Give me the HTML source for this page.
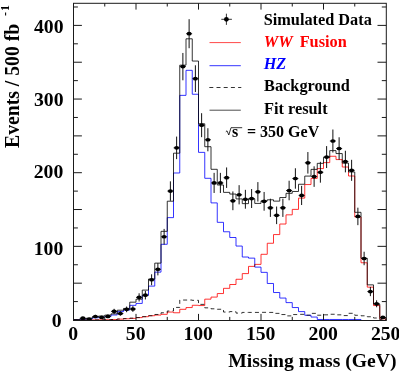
<!DOCTYPE html>
<html><head><meta charset="utf-8"><title>Missing mass</title>
<style>html,body{margin:0;padding:0;background:#fff;}body{width:399px;height:373px;overflow:hidden;font-family:"Liberation Serif",serif;}svg{display:block;}</style>
</head><body>
<svg width="399" height="373" viewBox="0 0 399 373">
<rect x="0" y="0" width="399" height="373" fill="#fff"/>
<g fill="none" stroke-linejoin="miter" stroke-linecap="butt">
<path d="M73.50 320.00 L73.50 319.63 L79.75 319.63 L79.75 318.90 L86.00 318.90 L86.00 318.31 L92.25 318.31 L92.25 316.91 L98.50 316.91 L98.50 316.10 L104.75 316.10 L104.75 315.14 L111.00 315.14 L111.00 313.89 L117.25 313.89 L117.25 310.20 L123.50 310.20 L123.50 308.44 L129.75 308.44 L129.75 302.18 L136.00 302.18 L136.00 299.16 L142.25 299.16 L142.25 290.10 L148.50 290.10 L148.50 279.05 L154.75 279.05 L154.75 263.14 L161.00 263.14 L161.00 231.33 L167.25 231.33 L167.25 201.20 L173.50 201.20 L173.50 153.18 L179.75 153.18 L179.75 65.17 L186.00 65.17 L186.00 38.80 L192.25 38.80 L192.25 61.05 L198.50 61.05 L198.50 123.80 L204.75 123.80 L204.75 146.70 L211.00 146.70 L211.00 169.31 L217.25 169.31 L217.25 185.00 L223.50 185.00 L223.50 192.36 L229.75 192.36 L229.75 194.06 L236.00 194.06 L236.00 198.92 L242.25 198.92 L242.25 203.63 L248.50 203.63 L248.50 198.85 L254.75 198.85 L254.75 203.41 L261.00 203.41 L261.00 200.83 L267.25 200.83 L267.25 199.80 L273.50 199.80 L273.50 201.13 L279.75 201.13 L279.75 197.52 L286.00 197.52 L286.00 193.32 L292.25 193.32 L292.25 191.48 L298.50 191.48 L298.50 184.26 L304.75 184.26 L304.75 176.09 L311.00 176.09 L311.00 169.39 L317.25 169.39 L317.25 163.35 L323.50 163.35 L323.50 157.31 L329.75 157.31 L329.75 150.60 L336.00 150.60 L336.00 153.55 L342.25 153.55 L342.25 163.13 L348.50 163.13 L348.50 171.96 L354.75 171.96 L354.75 212.32 L361.00 212.32 L361.00 258.28 L367.25 258.28 L367.25 284.87 L373.50 284.87 L373.50 304.09 L379.75 304.09 L379.75 317.57 L386.00 317.57 L386.00 320.00" stroke="#000" stroke-width="0.8"/>
<path d="M73.50 320.00 L73.50 319.78 L79.75 319.78 L79.75 319.26 L86.00 319.26 L86.00 318.90 L92.25 318.90 L92.25 317.79 L98.50 317.79 L98.50 317.27 L104.75 317.27 L104.75 316.61 L111.00 316.61 L111.00 314.99 L117.25 314.99 L117.25 311.60 L123.50 311.60 L123.50 310.06 L129.75 310.06 L129.75 305.34 L136.00 305.34 L136.00 303.43 L142.25 303.43 L142.25 295.25 L148.50 295.25 L148.50 286.12 L154.75 286.12 L154.75 272.13 L161.00 272.13 L161.00 244.29 L167.25 244.29 L167.25 217.63 L173.50 217.63 L173.50 172.99 L179.75 172.99 L179.75 95.37 L186.00 95.37 L186.00 70.33 L192.25 70.33 L192.25 94.26 L198.50 94.26 L198.50 152.37 L204.75 152.37 L204.75 178.30 L211.00 178.30 L211.00 202.90 L217.25 202.90 L217.25 222.34 L223.50 222.34 L223.50 231.77 L229.75 231.77 L229.75 237.51 L236.00 237.51 L236.00 246.06 L242.25 246.06 L242.25 257.03 L248.50 257.03 L248.50 258.13 L254.75 258.13 L254.75 267.12 L261.00 267.12 L261.00 272.35 L267.25 272.35 L267.25 283.47 L273.50 283.47 L273.50 292.53 L279.75 292.53 L279.75 298.05 L286.00 298.05 L286.00 302.62 L292.25 302.62 L292.25 307.55 L298.50 307.55 L298.50 311.60 L304.75 311.60 L304.75 315.29 L311.00 315.29 L311.00 317.05 L317.25 317.05 L317.25 319.48 L323.50 319.48 L323.50 319.48 L329.75 319.48 L329.75 319.48 L336.00 319.48 L336.00 319.48 L342.25 319.48 L342.25 319.48 L348.50 319.48 L348.50 319.48 L354.75 319.48 L354.75 319.48 L361.00 319.48 L361.00 320.00" stroke="#0000ff" stroke-width="0.8" style="mix-blend-mode:multiply"/>
</g>
<g stroke="#111" stroke-width="1" fill="#000">
<path d="M82.88 316.91V319.37"/>
<path d="M79.85 318.14H85.90" stroke-width="1" stroke-opacity="0.8"/>
<ellipse cx="82.88" cy="318.14" rx="2.5" ry="1.85" stroke="none"/>
<path d="M89.12 318.19V320.00"/>
<path d="M86.10 319.10H92.15" stroke-width="1" stroke-opacity="0.8"/>
<ellipse cx="89.12" cy="319.10" rx="2.5" ry="1.85" stroke="none"/>
<path d="M95.38 314.87V318.16"/>
<path d="M92.35 316.52H98.40" stroke-width="1" stroke-opacity="0.8"/>
<ellipse cx="95.38" cy="316.52" rx="2.5" ry="1.85" stroke="none"/>
<path d="M101.62 315.97V318.84"/>
<path d="M98.60 317.40H104.65" stroke-width="1" stroke-opacity="0.8"/>
<ellipse cx="101.62" cy="317.40" rx="2.5" ry="1.85" stroke="none"/>
<path d="M107.88 314.78V318.11"/>
<path d="M104.85 316.44H110.90" stroke-width="1" stroke-opacity="0.8"/>
<ellipse cx="107.88" cy="316.44" rx="2.5" ry="1.85" stroke="none"/>
<path d="M114.12 308.81V313.91"/>
<path d="M111.10 311.36H117.15" stroke-width="1" stroke-opacity="0.8"/>
<ellipse cx="114.12" cy="311.36" rx="2.5" ry="1.85" stroke="none"/>
<path d="M120.38 311.28V315.72"/>
<path d="M117.35 313.50H123.40" stroke-width="1" stroke-opacity="0.8"/>
<ellipse cx="120.38" cy="313.50" rx="2.5" ry="1.85" stroke="none"/>
<path d="M126.62 306.55V312.20"/>
<path d="M123.60 309.37H129.65" stroke-width="1" stroke-opacity="0.8"/>
<ellipse cx="126.62" cy="309.37" rx="2.5" ry="1.85" stroke="none"/>
<path d="M132.88 306.13V311.88"/>
<path d="M129.85 309.01H135.90" stroke-width="1" stroke-opacity="0.8"/>
<ellipse cx="132.88" cy="309.01" rx="2.5" ry="1.85" stroke="none"/>
<path d="M139.12 293.27V301.47"/>
<path d="M136.10 297.37H142.15" stroke-width="1" stroke-opacity="0.8"/>
<ellipse cx="139.12" cy="297.37" rx="2.5" ry="1.85" stroke="none"/>
<path d="M145.38 290.86V299.45"/>
<path d="M142.35 295.16H148.40" stroke-width="1" stroke-opacity="0.8"/>
<ellipse cx="145.38" cy="295.16" rx="2.5" ry="1.85" stroke="none"/>
<path d="M151.62 274.31V285.22"/>
<path d="M148.60 279.77H154.65" stroke-width="1" stroke-opacity="0.8"/>
<ellipse cx="151.62" cy="279.77" rx="2.5" ry="1.85" stroke="none"/>
<path d="M157.88 263.11V275.36"/>
<path d="M154.85 269.23H160.90" stroke-width="1" stroke-opacity="0.8"/>
<ellipse cx="157.88" cy="269.23" rx="2.5" ry="1.85" stroke="none"/>
<path d="M164.12 228.92V244.59"/>
<path d="M161.10 236.75H167.15" stroke-width="1" stroke-opacity="0.8"/>
<ellipse cx="164.12" cy="236.75" rx="2.5" ry="1.85" stroke="none"/>
<path d="M170.38 181.34V200.84"/>
<path d="M167.35 191.09H173.40" stroke-width="1" stroke-opacity="0.8"/>
<ellipse cx="170.38" cy="191.09" rx="2.5" ry="1.85" stroke="none"/>
<path d="M176.62 136.59V159.13"/>
<path d="M173.60 147.86H179.65" stroke-width="1" stroke-opacity="0.8"/>
<ellipse cx="176.62" cy="147.86" rx="2.5" ry="1.85" stroke="none"/>
<path d="M182.88 52.96V80.29"/>
<path d="M179.85 66.62H185.90" stroke-width="1" stroke-opacity="0.8"/>
<ellipse cx="182.88" cy="66.62" rx="2.5" ry="1.85" stroke="none"/>
<path d="M189.12 19.18V48.23"/>
<path d="M186.10 33.70H192.15" stroke-width="1" stroke-opacity="0.8"/>
<ellipse cx="189.12" cy="33.70" rx="2.5" ry="1.85" stroke="none"/>
<path d="M195.38 65.29V91.97"/>
<path d="M192.35 78.63H198.40" stroke-width="1" stroke-opacity="0.8"/>
<ellipse cx="195.38" cy="78.63" rx="2.5" ry="1.85" stroke="none"/>
<path d="M201.62 113.19V137.16"/>
<path d="M198.60 125.17H204.65" stroke-width="1" stroke-opacity="0.8"/>
<ellipse cx="201.62" cy="125.17" rx="2.5" ry="1.85" stroke="none"/>
<path d="M207.88 128.23V151.29"/>
<path d="M204.85 139.76H210.90" stroke-width="1" stroke-opacity="0.8"/>
<ellipse cx="207.88" cy="139.76" rx="2.5" ry="1.85" stroke="none"/>
<path d="M214.12 172.86V192.97"/>
<path d="M211.10 182.92H217.15" stroke-width="1" stroke-opacity="0.8"/>
<ellipse cx="214.12" cy="182.92" rx="2.5" ry="1.85" stroke="none"/>
<path d="M220.38 172.86V192.97"/>
<path d="M217.35 182.92H223.40" stroke-width="1" stroke-opacity="0.8"/>
<ellipse cx="220.38" cy="182.92" rx="2.5" ry="1.85" stroke="none"/>
<path d="M226.62 167.44V187.93"/>
<path d="M223.60 177.69H229.65" stroke-width="1" stroke-opacity="0.8"/>
<ellipse cx="226.62" cy="177.69" rx="2.5" ry="1.85" stroke="none"/>
<path d="M232.88 191.44V210.19"/>
<path d="M229.85 200.81H235.90" stroke-width="1" stroke-opacity="0.8"/>
<ellipse cx="232.88" cy="200.81" rx="2.5" ry="1.85" stroke="none"/>
<path d="M239.12 185.16V204.39"/>
<path d="M236.10 194.77H242.15" stroke-width="1" stroke-opacity="0.8"/>
<ellipse cx="239.12" cy="194.77" rx="2.5" ry="1.85" stroke="none"/>
<path d="M245.38 189.83V208.70"/>
<path d="M242.35 199.27H248.40" stroke-width="1" stroke-opacity="0.8"/>
<ellipse cx="245.38" cy="199.27" rx="2.5" ry="1.85" stroke="none"/>
<path d="M251.62 189.06V208.00"/>
<path d="M248.60 198.53H254.65" stroke-width="1" stroke-opacity="0.8"/>
<ellipse cx="251.62" cy="198.53" rx="2.5" ry="1.85" stroke="none"/>
<path d="M257.88 182.10V201.55"/>
<path d="M254.85 191.83H260.90" stroke-width="1" stroke-opacity="0.8"/>
<ellipse cx="257.88" cy="191.83" rx="2.5" ry="1.85" stroke="none"/>
<path d="M264.12 191.97V210.69"/>
<path d="M261.10 201.33H267.15" stroke-width="1" stroke-opacity="0.8"/>
<ellipse cx="264.12" cy="201.33" rx="2.5" ry="1.85" stroke="none"/>
<path d="M270.38 198.71V216.91"/>
<path d="M267.35 207.81H273.40" stroke-width="1" stroke-opacity="0.8"/>
<ellipse cx="270.38" cy="207.81" rx="2.5" ry="1.85" stroke="none"/>
<path d="M276.62 206.53V224.11"/>
<path d="M273.60 215.32H279.65" stroke-width="1" stroke-opacity="0.8"/>
<ellipse cx="276.62" cy="215.32" rx="2.5" ry="1.85" stroke="none"/>
<path d="M282.88 198.71V216.91"/>
<path d="M279.85 207.81H285.90" stroke-width="1" stroke-opacity="0.8"/>
<ellipse cx="282.88" cy="207.81" rx="2.5" ry="1.85" stroke="none"/>
<path d="M289.12 180.73V200.28"/>
<path d="M286.10 190.50H292.15" stroke-width="1" stroke-opacity="0.8"/>
<ellipse cx="289.12" cy="190.50" rx="2.5" ry="1.85" stroke="none"/>
<path d="M295.38 168.28V188.71"/>
<path d="M292.35 178.50H298.40" stroke-width="1" stroke-opacity="0.8"/>
<ellipse cx="295.38" cy="178.50" rx="2.5" ry="1.85" stroke="none"/>
<path d="M301.62 185.85V205.02"/>
<path d="M298.60 195.44H304.65" stroke-width="1" stroke-opacity="0.8"/>
<ellipse cx="301.62" cy="195.44" rx="2.5" ry="1.85" stroke="none"/>
<path d="M307.88 152.04V173.58"/>
<path d="M304.85 162.81H310.90" stroke-width="1" stroke-opacity="0.8"/>
<ellipse cx="307.88" cy="162.81" rx="2.5" ry="1.85" stroke="none"/>
<path d="M314.12 166.30V186.87"/>
<path d="M311.10 176.58H317.15" stroke-width="1" stroke-opacity="0.8"/>
<ellipse cx="314.12" cy="176.58" rx="2.5" ry="1.85" stroke="none"/>
<path d="M320.38 161.80V182.68"/>
<path d="M317.35 172.24H323.40" stroke-width="1" stroke-opacity="0.8"/>
<ellipse cx="320.38" cy="172.24" rx="2.5" ry="1.85" stroke="none"/>
<path d="M326.62 146.10V168.03"/>
<path d="M323.60 157.07H329.65" stroke-width="1" stroke-opacity="0.8"/>
<ellipse cx="326.62" cy="157.07" rx="2.5" ry="1.85" stroke="none"/>
<path d="M332.88 129.52V152.50"/>
<path d="M329.85 141.01H335.90" stroke-width="1" stroke-opacity="0.8"/>
<ellipse cx="332.88" cy="141.01" rx="2.5" ry="1.85" stroke="none"/>
<path d="M339.12 137.28V159.77"/>
<path d="M336.10 148.52H342.15" stroke-width="1" stroke-opacity="0.8"/>
<ellipse cx="339.12" cy="148.52" rx="2.5" ry="1.85" stroke="none"/>
<path d="M345.38 150.75V172.37"/>
<path d="M342.35 161.56H348.40" stroke-width="1" stroke-opacity="0.8"/>
<ellipse cx="345.38" cy="161.56" rx="2.5" ry="1.85" stroke="none"/>
<path d="M351.62 159.82V180.83"/>
<path d="M348.60 170.32H354.65" stroke-width="1" stroke-opacity="0.8"/>
<ellipse cx="351.62" cy="170.32" rx="2.5" ry="1.85" stroke="none"/>
<path d="M357.88 207.68V225.17"/>
<path d="M354.85 216.43H360.90" stroke-width="1" stroke-opacity="0.8"/>
<ellipse cx="357.88" cy="216.43" rx="2.5" ry="1.85" stroke="none"/>
<path d="M364.12 251.74V265.22"/>
<path d="M361.10 258.48H367.15" stroke-width="1" stroke-opacity="0.8"/>
<ellipse cx="364.12" cy="258.48" rx="2.5" ry="1.85" stroke="none"/>
<path d="M370.38 286.96V296.14"/>
<path d="M367.35 291.55H373.40" stroke-width="1" stroke-opacity="0.8"/>
<ellipse cx="370.38" cy="291.55" rx="2.5" ry="1.85" stroke="none"/>
<path d="M376.62 300.30V307.25"/>
<path d="M373.60 303.78H379.65" stroke-width="1" stroke-opacity="0.8"/>
<ellipse cx="376.62" cy="303.78" rx="2.5" ry="1.85" stroke="none"/>
<path d="M382.88 316.06V318.89"/>
<path d="M379.85 317.47H385.90" stroke-width="1" stroke-opacity="0.8"/>
<ellipse cx="382.88" cy="317.47" rx="2.5" ry="1.85" stroke="none"/>
</g>
<g fill="none" stroke-linejoin="miter" stroke-linecap="butt">
<path d="M73.50 320.00 L73.50 320.00 L79.75 320.00 L79.75 320.00 L86.00 320.00 L86.00 319.93 L92.25 319.93 L92.25 319.93 L98.50 319.93 L98.50 319.85 L104.75 319.85 L104.75 319.78 L111.00 319.78 L111.00 319.56 L117.25 319.56 L117.25 319.12 L123.50 319.12 L123.50 318.75 L129.75 318.75 L129.75 318.38 L136.00 318.38 L136.00 317.64 L142.25 317.64 L142.25 316.69 L148.50 316.69 L148.50 315.73 L154.75 315.73 L154.75 315.07 L161.00 315.07 L161.00 314.33 L167.25 314.33 L167.25 312.05 L173.50 312.05 L173.50 312.78 L179.75 312.78 L179.75 309.32 L186.00 309.32 L186.00 307.55 L192.25 307.55 L192.25 305.27 L198.50 305.27 L198.50 305.56 L204.75 305.56 L204.75 299.16 L211.00 299.16 L211.00 297.09 L217.25 297.09 L217.25 293.56 L223.50 293.56 L223.50 288.33 L229.75 288.33 L229.75 284.50 L236.00 284.50 L236.00 279.27 L242.25 279.27 L242.25 273.60 L248.50 273.60 L248.50 266.38 L254.75 266.38 L254.75 264.39 L261.00 264.39 L261.00 254.30 L267.25 254.30 L267.25 243.26 L273.50 243.26 L273.50 234.57 L279.75 234.57 L279.75 224.03 L286.00 224.03 L286.00 214.83 L292.25 214.83 L292.25 209.38 L298.50 209.38 L298.50 198.11 L304.75 198.11 L304.75 184.56 L311.00 184.56 L311.00 178.37 L317.25 178.37 L317.25 168.58 L323.50 168.58 L323.50 162.61 L329.75 162.61 L329.75 156.28 L336.00 156.28 L336.00 159.59 L342.25 159.59 L342.25 167.03 L348.50 167.03 L348.50 176.01 L354.75 176.01 L354.75 216.96 L361.00 216.96 L361.00 262.77 L367.25 262.77 L367.25 287.15 L373.50 287.15 L373.50 305.56 L379.75 305.56 L379.75 318.82 L386.00 318.82 L386.00 320.00" stroke="#ff0000" stroke-width="0.8" style="mix-blend-mode:multiply"/>
<path d="M73.50 320.00 L73.50 320.00 L79.75 320.00 L79.75 320.00 L86.00 320.00 L86.00 319.93 L92.25 319.93 L92.25 319.93 L98.50 319.93 L98.50 319.85 L104.75 319.85 L104.75 319.78 L111.00 319.78 L111.00 319.56 L117.25 319.56 L117.25 319.04 L123.50 319.04 L123.50 318.60 L129.75 318.60 L129.75 318.16 L136.00 318.16 L136.00 317.57 L142.25 317.57 L142.25 316.69 L148.50 316.69 L148.50 315.73 L154.75 315.73 L154.75 314.48 L161.00 314.48 L161.00 312.78 L167.25 312.78 L167.25 311.01 L173.50 311.01 L173.50 307.41 L179.75 307.41 L179.75 300.04 L186.00 300.04 L186.00 300.04 L192.25 300.04 L192.25 300.34 L198.50 300.34 L198.50 304.39 L204.75 304.39 L204.75 307.85 L211.00 307.85 L211.00 308.81 L217.25 308.81 L217.25 309.25 L223.50 309.25 L223.50 312.05 L229.75 312.05 L229.75 311.60 L236.00 311.60 L236.00 313.08 L242.25 313.08 L242.25 312.41 L248.50 312.41 L248.50 312.41 L254.75 312.41 L254.75 312.41 L261.00 312.41 L261.00 312.34 L267.25 312.34 L267.25 312.41 L273.50 312.41 L273.50 313.37 L279.75 313.37 L279.75 314.55 L286.00 314.55 L286.00 315.88 L292.25 315.88 L292.25 314.55 L298.50 314.55 L298.50 314.33 L304.75 314.33 L304.75 315.21 L311.00 315.21 L311.00 313.37 L317.25 313.37 L317.25 315.21 L323.50 315.21 L323.50 314.84 L329.75 314.84 L329.75 314.26 L336.00 314.26 L336.00 314.84 L342.25 314.84 L342.25 315.58 L348.50 315.58 L348.50 313.30 L354.75 313.30 L354.75 315.29 L361.00 315.29 L361.00 315.80 L367.25 315.80 L367.25 316.76 L373.50 316.76 L373.50 318.01 L379.75 318.01 L379.75 319.63 L386.00 319.63 L386.00 320.00" stroke="#000" stroke-width="0.8" stroke-dasharray="4 3.2"/>
</g>
<g stroke="#1a1a1a" stroke-width="1" fill="none">
<rect x="73.50" y="3.30" width="312.80" height="317.20"/>
<path d="M73.50 301.59h4.4M386.30 301.59h-4.5M73.50 283.18h8.4M386.30 283.18h-8.8M73.50 264.76h4.4M386.30 264.76h-4.5M73.50 246.35h8.4M386.30 246.35h-8.8M73.50 227.94h4.4M386.30 227.94h-4.5M73.50 209.52h8.4M386.30 209.52h-8.8M73.50 191.11h4.4M386.30 191.11h-4.5M73.50 172.70h8.4M386.30 172.70h-8.8M73.50 154.29h4.4M386.30 154.29h-4.5M73.50 135.88h8.4M386.30 135.88h-8.8M73.50 117.46h4.4M386.30 117.46h-4.5M73.50 99.05h8.4M386.30 99.05h-8.8M73.50 80.64h4.4M386.30 80.64h-4.5M73.50 62.22h8.4M386.30 62.22h-8.8M73.50 43.81h4.4M386.30 43.81h-4.5M73.50 25.40h8.4M386.30 25.40h-8.8M73.50 6.99h4.4M386.30 6.99h-4.5M104.75 320.50v-3.6M104.75 3.30v3.2M136.00 320.50v-6.6M136.00 3.30v6.3M167.25 320.50v-3.6M167.25 3.30v3.2M198.50 320.50v-6.6M198.50 3.30v6.3M229.75 320.50v-3.6M229.75 3.30v3.2M261.00 320.50v-6.6M261.00 3.30v6.3M292.25 320.50v-3.6M292.25 3.30v3.2M323.50 320.50v-6.6M323.50 3.30v6.3M354.75 320.50v-3.6M354.75 3.30v3.2"/>
</g>
<g font-family="'Liberation Serif', serif" font-weight="bold" fill="#000">
<text x="61.50" y="326.95" font-size="19.7" text-anchor="end">0</text>
<text x="63.30" y="254.55" font-size="19.7" text-anchor="end">100</text>
<text x="63.30" y="178.05" font-size="19.7" text-anchor="end">200</text>
<text x="63.50" y="105.80" font-size="19.7" text-anchor="end">300</text>
<text x="63.50" y="33.35" font-size="19.7" text-anchor="end">400</text>
<text x="73.20" y="339.9" font-size="19.7" text-anchor="middle">0</text>
<text x="135.70" y="339.9" font-size="19.7" text-anchor="middle">50</text>
<text x="198.20" y="339.9" font-size="19.7" text-anchor="middle">100</text>
<text x="260.70" y="339.9" font-size="19.7" text-anchor="middle">150</text>
<text x="323.20" y="339.9" font-size="19.7" text-anchor="middle">200</text>
<text x="385.70" y="339.9" font-size="19.7" text-anchor="middle">250</text>
<text x="228.3" y="366.5" font-size="19.6" textLength="168.3" lengthAdjust="spacingAndGlyphs">Missing mass (GeV)</text>
<text transform="translate(19.4 148) rotate(-90) scale(1 1.05)" font-size="19.7">Events / 500 fb<tspan font-size="12" dy="-10.1" dx="7.9" letter-spacing="1">-1</tspan></text>
<text x="263.7" y="24.5" font-size="16.3">Simulated Data</text>
<text x="263.7" y="46.7" font-size="16.3" fill="#ff0000"><tspan font-style="italic">WW</tspan><tspan dx="7">Fusion</tspan></text>
<text x="263.7" y="69.3" font-size="16.3" fill="#0000ff" font-style="italic">HZ</text>
<text x="264.1" y="90.6" font-size="16.3">Background</text>
<text x="264.1" y="114" font-size="16.3">Fit result</text>
<text x="232" y="137" font-size="16">s</text>
<text x="247" y="137.3" font-size="16">= 350 GeV</text>
</g>
<path d="M225.8 131.8l1.2 -1 l1.8 4.2 l2.2 -7.3 H242.2" fill="none" stroke="#000" stroke-width="0.8"/>
<g stroke="#000" stroke-width="0.8" fill="#000"><path d="M226.4 13.7V24.9M221.3 19.3H231.9"/><circle cx="226.4" cy="19.3" r="2.4" stroke="none"/></g>
<path d="M209.5 42.6H240.8" stroke="#ff0000" stroke-width="0.8" stroke-opacity="0.9"/>
<path d="M209.5 65.7H240.8" stroke="#0000ff" stroke-width="0.8"/>
<path d="M209.3 87.5H241.3" stroke="#000" stroke-width="0.8" stroke-dasharray="4 3.2"/>
<path d="M209.5 110.2H240.8" stroke="#000" stroke-width="0.7"/>
</svg>
</body></html>
